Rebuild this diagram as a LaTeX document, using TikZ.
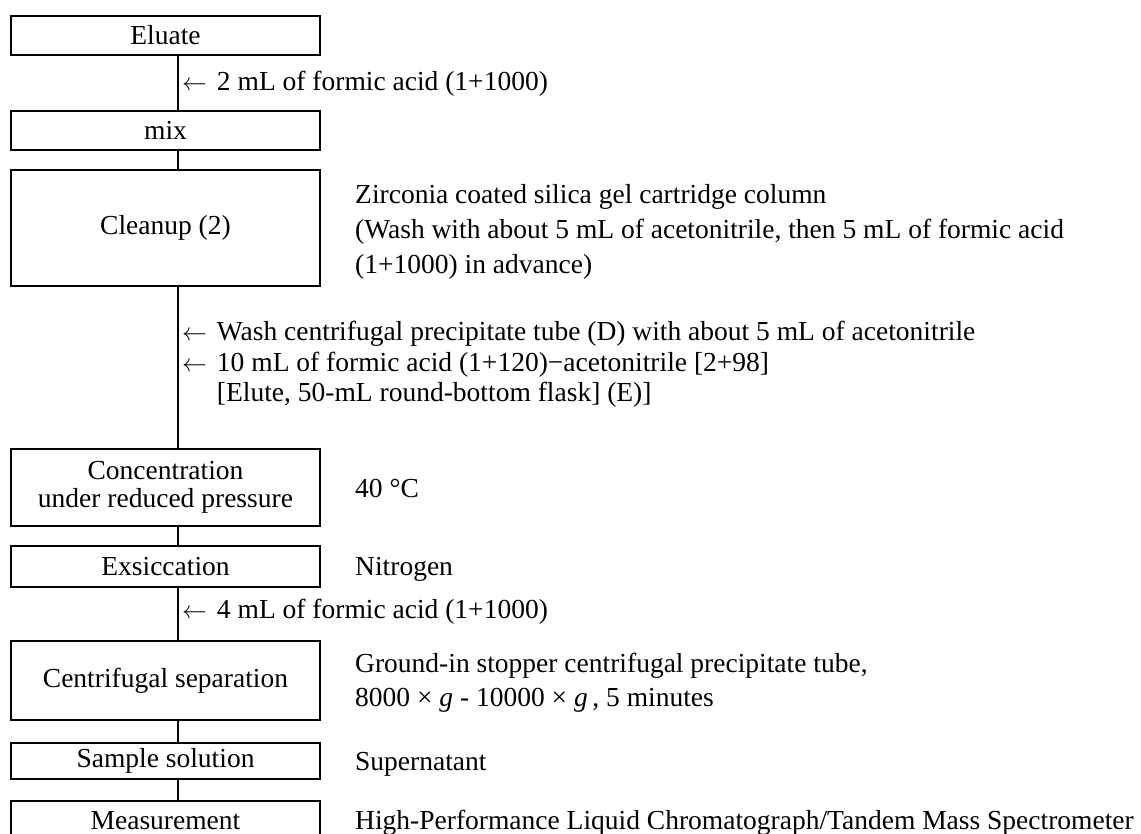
\documentclass[tikz,border=0pt]{standalone}
\usepackage{fontspec}
\setmainfont{Liberation Serif}
\newcommand\myfs{\fontsize{27.5}{28}\selectfont}
\newcommand\myarr{$\leftarrow$\hspace{0.36em}}
\begin{document}
\begin{tikzpicture}[x=1pt,y=-1pt,
  box/.style={draw, line width=2.5pt, minimum width=309pt, inner sep=0pt, align=center, font=\myfs},
  lbl/.style={anchor=base west, inner sep=0pt, font=\myfs},
  conn/.style={line width=2.5pt}]
\useasboundingbox (0,0) rectangle (1141,834);
\clip (0,0) rectangle (1141,834);
\coordinate (sp) at (178,0);
% boxes
\node[box, minimum height=39pt] (eluate) at (165.5,35.5) {Eluate};
\node[box, minimum height=39pt] (mix) at (165.5,130.5) {mix};
\node[box, minimum height=116pt] (cleanup) at (165.5,228) {Cleanup (2)};
\node[box, minimum height=77pt] (conc) at (165.5,487.5) {Concentration\\under reduced pressure};
\node[box, minimum height=41pt] (exsic) at (165.5,566.5) {Exsiccation};
\node[box, minimum height=79pt] (centri) at (165.5,680.5) {Centrifugal separation};
\node[box, minimum height=36pt] (sample) at (165.5,761) {Sample solution};
\node[box, minimum height=40pt] (meas) at (165.5,821) {Measurement};
% connectors
\draw[conn] (eluate.south -| sp) -- (mix.north -| sp);
\draw[conn] (mix.south -| sp) -- (cleanup.north -| sp);
\draw[conn] (cleanup.south -| sp) -- (conc.north -| sp);
\draw[conn] (conc.south -| sp) -- (exsic.north -| sp);
\draw[conn] (exsic.south -| sp) -- (centri.north -| sp);
\draw[conn] (centri.south -| sp) -- (sample.north -| sp);
\draw[conn] (sample.south -| sp) -- (meas.north -| sp);
% side labels
\node[lbl] (a1) at (182,91) {\myarr 2 mL of formic acid (1+1000)};
\node[lbl] (c1) at (355,204) {Zirconia coated silica gel cartridge column};
\node[lbl] (c2) at (355,239) {(Wash with about 5 mL of acetonitrile, then 5 mL of formic acid};
\node[lbl] (c3) at (355,274) {(1+1000) in advance)};
\node[lbl] (w1) at (182,341) {\myarr Wash centrifugal precipitate tube (D) with about 5 mL of acetonitrile};
\node[lbl] (w2) at (182,371) {\myarr 10 mL of formic acid (1+120)−acetonitrile [2+98]};
\node[lbl] (w3) at (182,401) {\phantom{\myarr}[Elute, 50-mL round-bottom flask] (E)]};
\node[lbl] (t1) at (355,497) {40 °C};
\node[lbl] (n1) at (355,575) {Nitrogen};
\node[lbl] (a2) at (182,618) {\myarr 4 mL of formic acid (1+1000)};
\node[lbl] (g1) at (355,672) {Ground-in stopper centrifugal precipitate tube,};
\node[lbl] (g2) at (355,706) {8000 × \textit{g} - 10000 × \textit{g}\,, 5 minutes};
\node[lbl] (s1) at (355,770) {Supernatant};
\node[lbl] (m1) at (355,829) {High-Performance Liquid Chromatograph/Tandem Mass Spectrometer};
\end{tikzpicture}
\end{document}
